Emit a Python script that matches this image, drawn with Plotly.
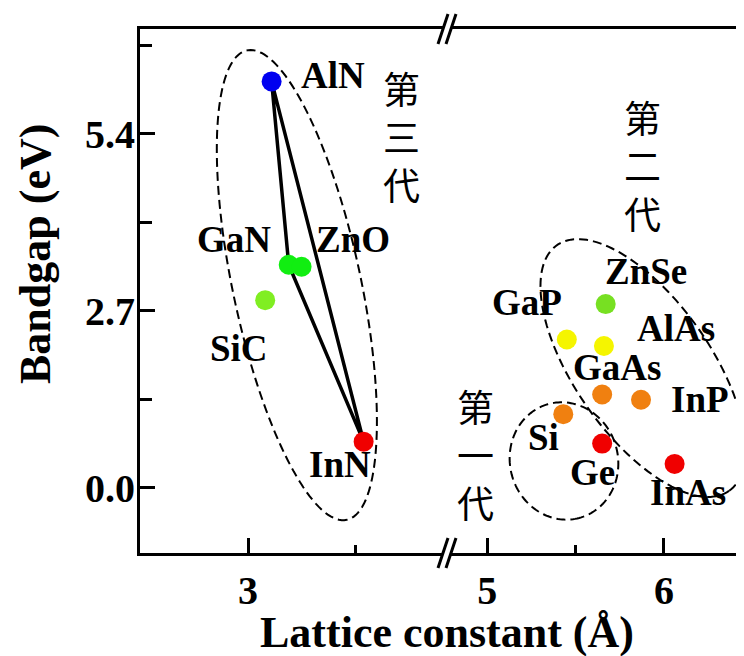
import numpy as np
import plotly.graph_objects as go

# ---------------- data ----------------
gen3_names = ["AlN", "GaN", "ZnO", "SiC", "InN"]
gen3_lattice = [3.11, 3.19, 3.25, 3.08, 3.54]
gen3_bandgap = [6.20, 3.40, 3.37, 2.86, 0.70]
gen3_colors = ["#0000f0", "#11ee11", "#11ee11", "#80ee22", "#f00000"]

right_names = ["ZnSe", "GaP", "AlAs", "GaAs", "InP", "Si", "Ge", "InAs"]
right_lattice = [5.67, 5.45, 5.66, 5.65, 5.87, 5.43, 5.65, 6.06]
right_bandgap = [2.80, 2.26, 2.16, 1.42, 1.34, 1.12, 0.67, 0.36]
right_colors = ["#77e022", "#f5f500", "#f5f500", "#f08010", "#f08010",
                "#f08010", "#f00000", "#f00000"]

triangle = ["AlN", "GaN", "InN", "AlN"]

ytick_vals = [0.0, 2.7, 5.4]
ytick_text = ["0.0", "2.7", "5.4"]
yminor_vals = [1.35, 4.05, 6.75]
xl_tick_vals = [3]
xl_minor_vals = [3.5]
xr_tick_vals = [5, 6]
xr_minor_vals = [5.5]

# ---------------- geometry / style ----------------
# screen coordinates of the plot area (the page body adds an 8 px offset)
OFF = 8
SCR_W, SCR_H = 744, 656
PLOT_L, PLOT_T, PLOT_B, PLOT_R = 140, 29, 553, 744
W, H = SCR_W - OFF, SCR_H - OFF
ML, MT = PLOT_L - OFF, PLOT_T - OFF
MB = SCR_H - PLOT_B
MR = 0
PW, PH = PLOT_R - PLOT_L, PLOT_B - PLOT_T
LEFT_END, RIGHT_START = 443, 451          # screen x of the axis break
SX_L, SX_R = 214.0, 176.7                  # px per unit on each x segment
xl_range = [2.495, 2.495 + (LEFT_END - PLOT_L) / SX_L]
xr_range = [4.7946, 4.7946 + (PLOT_R - RIGHT_START) / SX_R]
y_range = [-1.0, 7.0]
SY = PH / (y_range[1] - y_range[0])

SERIF = "Liberation Serif"
CJK = "Noto Sans CJK SC"


def px2paper(px, py):
    return (px - PLOT_L) / PW, (PLOT_B - py) / PH


# label offsets in pixels (dx right, dy down) relative to the point
label_offsets = {
    "AlN": (61, -6), "GaN": (-55, -25), "ZnO": (51, -27), "SiC": (-26, 48),
    "InN": (-24, 23), "ZnSe": (40, -33), "GaP": (-40, -37), "AlAs": (72, -18),
    "GaAs": (15, -27), "InP": (59, 0), "Si": (-20, 23), "Ge": (-10, 29),
    "InAs": (13, 29),
}

fig = go.Figure()

# triangle lines
idx = [gen3_names.index(n) for n in triangle]
fig.add_trace(go.Scatter(
    x=[gen3_lattice[i] for i in idx], y=[gen3_bandgap[i] for i in idx],
    mode="lines", line=dict(color="black", width=3.5),
    xaxis="x", yaxis="y", hoverinfo="skip", cliponaxis=False))

fig.add_trace(go.Scatter(
    x=gen3_lattice, y=gen3_bandgap, mode="markers", text=gen3_names,
    marker=dict(size=20, color=gen3_colors, line=dict(width=0)),
    xaxis="x", yaxis="y", cliponaxis=False))

fig.add_trace(go.Scatter(
    x=right_lattice, y=right_bandgap, mode="markers", text=right_names,
    marker=dict(size=20, color=right_colors, line=dict(width=0)),
    xaxis="x2", yaxis="y", cliponaxis=False))

annotations = []
for names, xs, ys, xr in [(gen3_names, gen3_lattice, gen3_bandgap, "x"),
                          (right_names, right_lattice, right_bandgap, "x2")]:
    for n, xv, yv in zip(names, xs, ys):
        dx, dy = label_offsets[n]
        annotations.append(dict(
            x=xv, y=yv, xref=xr, yref="y", text=n, showarrow=False,
            xshift=dx, yshift=-dy,
            font=dict(family=SERIF, size=37, color="black", weight="bold")))

# vertical Chinese labels (one character per line), centre of middle char
cjk_labels = [("第三代", 401, 136), ("第二代", 642, 165), ("第一代", 475, 454)]
for txt, cx, cy in cjk_labels:
    xp, yp = px2paper(cx, cy)
    annotations.append(dict(
        x=xp, y=yp, xref="paper", yref="paper", text="<br>".join(txt),
        showarrow=False, xanchor="center", yanchor="middle", align="center",
        font=dict(family=CJK, size=37, color="black")))

# axis titles
xp, yp = px2paper(447, 632)
annotations.append(dict(x=xp, y=yp, xref="paper", yref="paper",
                        text="Lattice constant (Å)", showarrow=False,
                        xanchor="center", yanchor="middle",
                        font=dict(family=SERIF, size=44, color="black", weight="bold")))
xp, yp = px2paper(35, 254)
annotations.append(dict(x=xp, y=yp, xref="paper", yref="paper",
                        text="Bandgap (eV)", showarrow=False, textangle=-90,
                        xanchor="center", yanchor="middle",
                        font=dict(family=SERIF, size=44, color="black", weight="bold")))

shapes = []
# dashed ellipses: (xref, centre x, centre y, semi-major px, semi-minor px, angle deg on screen)
ellipses = [("x", 3.228, 3.09, 240, 64, 78),
            ("x2", 5.881, 1.824, 150, 68, 55),
            ("x2", 5.434, 0.405, 59, 54, 75)]
t = np.linspace(0, 2 * np.pi, 160)
for xr, cx, cy, a, b, ang in ellipses:
    th = np.radians(ang)
    ux, uy = np.cos(th), np.sin(th)
    vx, vy = -np.sin(th), np.cos(th)
    ox = a * np.cos(t) * ux + b * np.sin(t) * vx
    oy = a * np.cos(t) * uy + b * np.sin(t) * vy
    sx = SX_L if xr == "x" else SX_R
    X = cx + ox / sx
    Y = cy - oy / SY
    path = "M " + " L ".join(f"{x:.5f},{y:.5f}" for x, y in zip(X, Y)) + " Z"
    shapes.append(dict(type="path", path=path, xref=xr, yref="y",
                       line=dict(color="black", width=2, dash="9px,5px")))

# axis-break slashes
for cxp in (LEFT_END, RIGHT_START):
    for cyp in (PLOT_T, PLOT_B):
        x0, y0 = px2paper(cxp + 5, cyp - 15)
        x1, y1 = px2paper(cxp - 5, cyp + 15)
        shapes.append(dict(type="line", xref="paper", yref="paper",
                           x0=x0, y0=y0, x1=x1, y1=y1,
                           line=dict(color="black", width=3)))

tickfont = dict(family=SERIF, size=40, color="black", weight="bold")
common_x = dict(showline=True, linewidth=3, linecolor="black", mirror=True,
                showgrid=False, zeroline=False, ticks="inside", ticklen=15,
                tickwidth=3, tickcolor="black", tickfont=tickfont, anchor="y")

fig.update_layout(
    width=W, height=H,
    margin=dict(l=ML, r=MR, t=MT, b=MB, pad=0),
    plot_bgcolor="white", paper_bgcolor="white", showlegend=False,
    xaxis=dict(domain=[0, (LEFT_END - PLOT_L) / PW], range=xl_range,
               tickmode="array", tickvals=xl_tick_vals,
               ticktext=[str(v) for v in xl_tick_vals],
               minor=dict(tickmode="array", tickvals=xl_minor_vals, ticks="inside",
                          ticklen=8, tickwidth=3, tickcolor="black"),
               **common_x),
    xaxis2=dict(domain=[(RIGHT_START - PLOT_L) / PW, 1], range=xr_range,
                tickmode="array", tickvals=xr_tick_vals,
                ticktext=[str(v) for v in xr_tick_vals],
                minor=dict(tickmode="array", tickvals=xr_minor_vals, ticks="inside",
                           ticklen=8, tickwidth=3, tickcolor="black"),
                **common_x),
    yaxis=dict(range=y_range, anchor="x", showline=True, linewidth=3,
               linecolor="black", showgrid=False, zeroline=False,
               tickmode="array", tickvals=ytick_vals, ticktext=ytick_text,
               ticks="inside", ticklen=15, tickwidth=3, tickcolor="black",
               tickfont=tickfont, ticklabelstandoff=-6,
               minor=dict(tickmode="array", tickvals=yminor_vals, ticks="inside",
                          ticklen=12, tickwidth=3, tickcolor="black")),
    annotations=annotations,
    shapes=shapes,
)

fig.write_html("out.html")
